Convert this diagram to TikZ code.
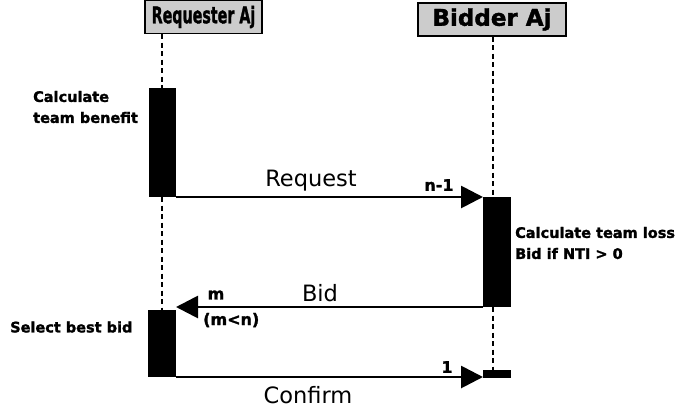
\documentclass[tikz,border=0pt]{standalone}
\usepackage{fontspec}
\setmainfont{DejaVu Sans}
\newfontfamily\heavyfont{DejaVu Sans Bold}[FakeBold=1.6]
\usetikzlibrary{arrows.meta}
\begin{document}
\begin{tikzpicture}[x=1pt,y=-1pt,
  hdr/.style={draw=black,line width=1.4pt,fill=gray!40,minimum width=#1,minimum height=33pt,inner sep=0pt,font=\fontsize{23}{23}\heavyfont},
  bar/.style={fill=black,draw=none},
  life/.style={line width=2.8pt,dash pattern=on 5pt off 3.5pt},
  msg/.style={line width=2.8pt,-{Triangle[length=22pt,width=22pt]}},
  big/.style={font=\fontsize{22.5}{22.5}\selectfont,inner sep=0pt},
  small/.style={font=\fontsize{14.5}{21}\heavyfont,inner sep=0pt,align=left},
  num/.style={font=\fontsize{16}{16}\heavyfont,inner sep=0pt}]
\useasboundingbox (0,0) rectangle (687,410);
% headers
\node[hdr=117pt] (req) at (203.5,17) {\scalebox{0.62}[1]{Requester Aj}};
\node[hdr=148pt] (bid) at (492,19.5) {\scalebox{1.0}[1]{Bidder Aj}};
% activation bars
\path[bar] (149,88) rectangle (176,197);
\coordinate (a1top) at (162,88);
\coordinate (a1bot) at (162,197);
\coordinate (a1r) at (176,197);
\path[bar] (483,197) rectangle (511,307);
\coordinate (a2top) at (493,197);
\coordinate (a2bot) at (493,307);
\coordinate (a2l) at (483,197);
\coordinate (a2lb) at (483,307);
\path[bar] (148,310) rectangle (176,377);
\coordinate (a3top) at (162,310);
\coordinate (a3r) at (176,307);
\coordinate (a3rb) at (176,377);
\path[bar] (483,370) rectangle (511,378);
\coordinate (a4top) at (493,370);
\coordinate (a4l) at (483,377);
% lifelines
\draw[life] (req.south -| a1top) -- (a1top);
\draw[life] (a1bot) -- (a3top);
\draw[life] (bid.south -| a2top) -- (a2top);
\draw[life] (a2bot) -- (a4top);
% messages
\draw[msg] (a1r) -- (a2l);
\draw[msg] (a2lb) -- (a3r);
\draw[msg] (a3rb) -- (a4l);
% labels
\node[big] (lreq) at (311,181) {Request};
\node[big] (lbid) at (320,293) {Bid};
\node[big] (lconf) at (308,395) {Confirm};
\node[num] (ln1) at (439,185) {n-1};
\node[num] (lm) at (216,295) {m};
\node[num,anchor=west] (lmn) at (203,320) {(m<n)};
\node[num] (l1) at (447,367) {1};
\node[small,anchor=west] (ltb) at (33,107) {Calculate\\team benefit};
\node[small,anchor=west] (ltl) at (515,243) {Calculate team loss\\Bid if NTI > 0};
\node[small,anchor=west] (lsb) at (10,327) {Select best bid};
\end{tikzpicture}
\end{document}
